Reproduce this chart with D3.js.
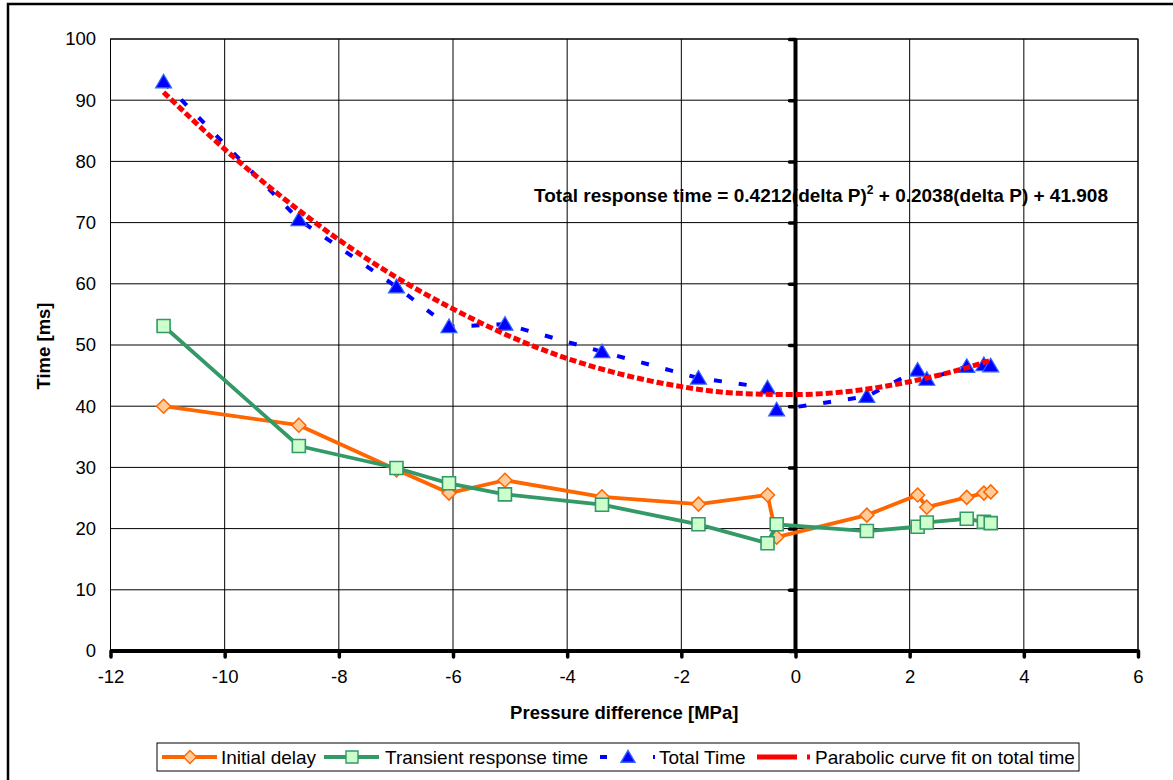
<!DOCTYPE html>
<html>
<head>
<meta charset="utf-8">
<script src="https://cdn.jsdelivr.net/npm/d3@7"></script>
<style>
  html, body { margin: 0; padding: 0; background: #fff; }
  svg { display: block; font-family: "Liberation Sans", Arial, sans-serif; }
</style>
</head>
<body>
<svg id="chart" width="1173" height="780"></svg>
<script>
// ---------------- data ----------------
const pressureDiff = [-11.07, -8.70, -6.99, -6.07, -5.09, -3.39, -1.70, -0.49, -0.33, 1.25, 2.14, 2.30, 3.00, 3.30, 3.42];
const initialDelay = [40.0, 36.9, 29.6, 25.8, 27.9, 25.2, 24.0, 25.5, 18.6, 22.2, 25.5, 23.5, 25.1, 25.8, 26.0];
const transientTime = [53.1, 33.5, 29.9, 27.4, 25.6, 23.9, 20.7, 17.6, 20.7, 19.6, 20.3, 21.0, 21.6, 21.1, 20.9];
const totalTime = [93.0, 70.5, 59.5, 53.0, 53.4, 48.9, 44.6, 43.0, 39.4, 41.6, 45.9, 44.4, 46.5, 46.8, 46.6];
// parabolic trendline
const fitX = [-11.07, -10, -9, -8, -7, -6, -5, -4, -3, -2, -1, 0, 1, 2, 3, 3.42];
const fitY = [91.3, 82.0, 74.2, 67.2, 61.1, 55.9, 51.4, 47.8, 45.1, 43.2, 42.1, 41.9, 42.5, 44.0, 46.3, 47.5];
const xTicks = [-12, -10, -8, -6, -4, -2, 0, 2, 4, 6];
const yTicks = [0, 10, 20, 30, 40, 50, 60, 70, 80, 90, 100];
const seriesNames = ["Initial delay", "Transient response time", "Total Time", "Parabolic curve fit on total time"];
const xTitle = "Pressure difference [MPa]";
const yTitle = "Time [ms]";

// ---------------- layout ----------------
const svg = d3.select("#chart");
const L = 110.5, R = 1138, T = 39, B = 651;
const x = d3.scaleLinear().domain([-12, 6]).range([L, R]);
const y = d3.scaleLinear().domain([0, 100]).range([B, T]);

// outer chart border
svg.append("rect").attr("x", 8).attr("y", 4).attr("width", 1200).attr("height", 800)
  .attr("fill", "#fff").attr("stroke", "#000").attr("stroke-width", 2.5);

// plot area
svg.append("rect").attr("x", L).attr("y", T).attr("width", R - L).attr("height", B - T)
  .attr("fill", "#fff").attr("stroke", "#000").attr("stroke-width", 1);

// gridlines
const grid = svg.append("g");
grid.selectAll("line.h").data(yTicks).join("line")
  .attr("x1", L).attr("x2", R).attr("y1", d => y(d)).attr("y2", d => y(d))
  .attr("stroke", "#000").attr("stroke-width", 1);
grid.selectAll("line.v").data(xTicks).join("line")
  .attr("y1", T).attr("y2", B).attr("x1", d => x(d)).attr("x2", d => x(d))
  .attr("stroke", "#000").attr("stroke-width", 1);

// y tick labels (left)
svg.append("g").selectAll("text").data(yTicks).join("text")
  .attr("x", 96).attr("y", d => y(d)).attr("dy", "0.35em")
  .attr("text-anchor", "end").attr("font-size", 18.5).attr("fill", "#000")
  .text(d => d);

// x axis (thick) via d3.axisBottom
const xAxis = svg.append("g").attr("transform", `translate(0,${B})`)
  .call(d3.axisBottom(x).tickValues(xTicks).tickSize(6).tickPadding(13).tickFormat(d3.format("d")));
xAxis.select(".domain").attr("stroke", "#000").attr("stroke-width", 4).attr("d", `M${L},0H${R}`);
xAxis.selectAll(".tick line").attr("stroke", "#000").attr("stroke-width", 3.5).attr("stroke-linecap", "round");
xAxis.selectAll(".tick text").attr("font-size", 18.5).attr("fill", "#000")
  .attr("font-family", "'Liberation Sans', Arial, sans-serif").text(d => d < 0 ? "-" + Math.abs(d) : d);

// vertical axis line at x = 0 with ticks to the left
const yAxis = svg.append("g").attr("transform", `translate(${x(0)},0)`)
  .call(d3.axisLeft(y).tickValues(yTicks).tickSize(6).tickFormat(""));
yAxis.select(".domain").attr("stroke", "#000").attr("stroke-width", 4).attr("d", `M0,${T}V${B}`);
yAxis.selectAll(".tick line").attr("stroke", "#000").attr("stroke-width", 3.5).attr("stroke-linecap", "round");

// axis titles
svg.append("text").attr("x", (L + R) / 2).attr("y", 719)
  .attr("text-anchor", "middle").attr("font-size", 18.5).attr("font-weight", "bold").text(xTitle);
svg.append("text").attr("transform", "translate(50,346) rotate(-90)")
  .attr("text-anchor", "middle").attr("font-size", 18.5).attr("font-weight", "bold").text(yTitle);

// ---------------- series ----------------
const pts = vals => pressureDiff.map((p, i) => [p, vals[i]]);
const lineGen = d3.line().x(d => x(d[0])).y(d => y(d[1]));

const diamond = s => `M0,${-s}L${s},0L0,${s}L${-s},0Z`;
const square = s => `M${-s},${-s}H${s}V${s}H${-s}Z`;
const triangle = s => `M0,${-s * 0.95}L${s},${s * 0.75}L${-s},${s * 0.75}Z`;

function drawSeries(data, color, width, dash, marker, mfill, mstroke, mwidth) {
  svg.append("path").datum(data).attr("d", lineGen)
    .attr("fill", "none").attr("stroke", color).attr("stroke-width", width)
    .attr("stroke-dasharray", dash).attr("stroke-linejoin", "round");
  svg.append("g").selectAll("path").data(data).join("path")
    .attr("transform", d => `translate(${x(d[0])},${y(d[1])})`)
    .attr("d", marker).attr("fill", mfill).attr("stroke", mstroke).attr("stroke-width", mwidth);
}

drawSeries(pts(initialDelay), "#FF6600", 3.8, null, diamond(7), "#FFCC99", "#FF6600", 1.5);
drawSeries(pts(transientTime), "#339966", 3.8, null, square(6.5), "#CCFFCC", "#339966", 1.6);
drawSeries(pts(totalTime), "#0000FF", 4, "8,17", triangle(8), "#0000FF", "#3366FF", 1.2);

// trendline
const fitData = fitX.map((v, i) => [v, fitY[i]]);
svg.append("path").datum(fitData)
  .attr("d", d3.line().x(d => x(d[0])).y(d => y(d[1])).curve(d3.curveMonotoneX))
  .attr("fill", "none").attr("stroke", "#FF0000").attr("stroke-width", 5).attr("stroke-dasharray", "7,3");

// equation label
const eq = svg.append("text").attr("x", 821).attr("y", 202).attr("text-anchor", "middle")
  .attr("font-size", 19).attr("font-weight", "bold").attr("fill", "#000");
eq.append("tspan").text("Total response time = 0.4212(delta P)");
eq.append("tspan").attr("font-size", 12).attr("dy", -8).text("2");
eq.append("tspan").attr("dy", 8).text(" + 0.2038(delta P) + 41.908");

// ---------------- legend ----------------
const lg = svg.append("g");
lg.append("rect").attr("x", 157).attr("y", 743).attr("width", 922).attr("height", 28)
  .attr("fill", "#fff").attr("stroke", "#000").attr("stroke-width", 1);
const ly = 757;
const legendItems = [
  {x0: 162, tx: 221, color: "#FF6600", w: 3.8, dash: null, marker: diamond(6.5), mf: "#FFCC99", ms: "#FF6600"},
  {x0: 324, tx: 385, color: "#339966", w: 3.8, dash: null, marker: square(6), mf: "#CCFFCC", ms: "#339966"},
  {x0: 600, tx: 659, color: "#0000FF", w: 4, dash: "7,46,2", marker: triangle(7), mf: "#0000FF", ms: "#3366FF"},
  {x0: 757, tx: 815, color: "#FF0000", w: 5, dash: "40,10,3", marker: null}
];
legendItems.forEach((it, i) => {
  lg.append("line").attr("x1", it.x0).attr("x2", it.x0 + 55).attr("y1", ly).attr("y2", ly)
    .attr("stroke", it.color).attr("stroke-width", it.w).attr("stroke-dasharray", it.dash);
  if (it.marker) {
    lg.append("path").attr("transform", `translate(${it.x0 + 28},${ly})`).attr("d", it.marker)
      .attr("fill", it.mf).attr("stroke", it.ms).attr("stroke-width", 1.4);
  }
  lg.append("text").attr("x", it.tx).attr("y", ly).attr("dy", "0.36em")
    .attr("font-size", 19).attr("fill", "#000").text(seriesNames[i]);
});
</script>
</body>
</html>
